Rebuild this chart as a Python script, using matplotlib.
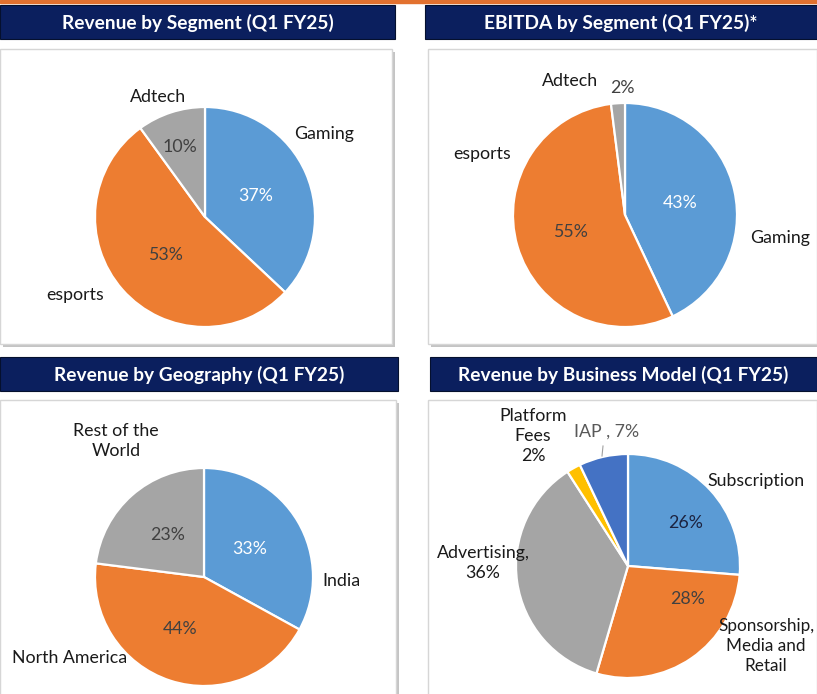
import matplotlib.pyplot as plt
from matplotlib.patches import Rectangle

plt.rcParams['font.family'] = ['Lato', 'DejaVu Sans']

BLUE = '#5B9BD5'
ORANGE = '#ED7D31'
GRAY = '#A5A5A5'
YELLOW = '#FFC000'
DBLUE = '#4472C4'
NAVY = '#0B1F5E'

# data
seg_names = ['Gaming', 'esports', 'Adtech']
seg_revenue = [37, 53, 10]
seg_ebitda = [43, 55, 2]
geo_names = ['India', 'North America', 'Rest of the\nWorld']
geo_revenue = [33, 44, 23]
bm_names = ['Subscription', 'Sponsorship,\nMedia and\nRetail', 'Advertising,', 'Platform\nFees', 'IAP ,']
bm_revenue = [26, 28, 36, 2, 7]

titles = ['Revenue by Segment (Q1 FY25)', 'EBITDA by Segment (Q1 FY25)*',
          'Revenue by Geography (Q1 FY25)', 'Revenue by Business Model (Q1 FY25)']

W, H = 817, 694
fig = plt.figure(figsize=(W / 100, H / 100), dpi=100)
ax = fig.add_axes([0, 0, 1, 1])

# headers (x0, x1, y0, y1) and boxes, in image pixels
headers = [(0, 395, 5, 39), (425, 817, 5, 39), (0, 398, 357, 391), (430, 817, 357, 391)]
boxes = [(0, 392, 49, 344), (428, 817, 49, 344), (0, 396, 400, 700), (428, 817, 400, 700)]

ax.add_patch(Rectangle((0, 0), W, 3, color='#E2712F', zorder=1))
for (x0, x1, y0, y1), t in zip(headers, titles):
    ax.add_patch(Rectangle((x0, y0), x1 - x0, y1 - y0, facecolor=NAVY,
                           edgecolor='#05102e', lw=0.8, zorder=1))
    ax.text((x0 + x1) / 2, (y0 + y1) / 2 + 1, t, color='white', fontsize=13.8,
            fontweight='bold', ha='center', va='center', zorder=2)
for x0, x1, y0, y1 in boxes:
    ax.add_patch(Rectangle((x0 + 3, y0 + 3), x1 - x0, y1 - y0, facecolor='#c4c4c4',
                           edgecolor='none', zorder=1))
    ax.add_patch(Rectangle((x0, y0), x1 - x0, y1 - y0, facecolor='white',
                           edgecolor='#d6d6d6', lw=1, zorder=1))

# y axis is inverted, so counterclock=True from -90 draws clockwise from 12 o'clock
wp = dict(edgecolor='white', linewidth=1.6)
pies = [
    (seg_revenue, [BLUE, ORANGE, GRAY], (205, 217), 110),
    (seg_ebitda, [BLUE, ORANGE, GRAY], (625, 215), 112),
    (geo_revenue, [BLUE, ORANGE, GRAY], (204, 577), 109),
    (bm_revenue, [BLUE, ORANGE, GRAY, YELLOW, DBLUE], (628, 566), 112),
]
for vals, cols, c, r in pies:
    ax.pie(vals, colors=cols, center=c, radius=r, startangle=-90, counterclock=True,
           wedgeprops=wp)

lab = dict(fontsize=12.8, color='#1a1a1a', ha='center', va='center')
pct = dict(fontsize=12.8, ha='center', va='center')
DARK = '#404040'

# panel 1
ax.text(324, 134, seg_names[0], **lab)
ax.text(75, 295, seg_names[1], **lab)
ax.text(158, 97, seg_names[2], **lab)
ax.text(256, 196, f'{seg_revenue[0]}%', color='white', **pct)
ax.text(165, 255, f'{seg_revenue[1]}%', color=DARK, **pct)
ax.text(180, 147, f'{seg_revenue[2]}%', color=DARK, **pct)

# panel 2
ax.text(780, 238, seg_names[0], **lab)
ax.text(482, 154, seg_names[1], **lab)
ax.text(570, 81, seg_names[2], **lab)
ax.text(680, 203, f'{seg_ebitda[0]}%', color='white', **pct)
ax.text(570, 232, f'{seg_ebitda[1]}%', color=DARK, **pct)
ax.text(622, 88, f'{seg_ebitda[2]}%', color=DARK, **pct)

# panel 3
ax.text(341, 581, geo_names[0], **lab)
ax.text(70, 658, geo_names[1], **lab)
ax.text(116, 441, geo_names[2], linespacing=1.3, **lab)
ax.text(250, 549, f'{geo_revenue[0]}%', color='white', **pct)
ax.text(180, 629, f'{geo_revenue[1]}%', color=DARK, **pct)
ax.text(168, 535, f'{geo_revenue[2]}%', color=DARK, **pct)

# panel 4
ax.text(756, 481, bm_names[0], **lab)
ax.text(766, 646, bm_names[1], linespacing=1.3, fontsize=12.3, color='#1a1a1a',
        ha='center', va='center')
ax.text(483, 563, f'{bm_names[2]}\n{bm_revenue[2]}%', linespacing=1.3, **lab)
ax.text(533, 436, f'{bm_names[3]}\n{bm_revenue[3]}%', linespacing=1.3, **lab)
ax.text(607, 432, f'{bm_names[4]} {bm_revenue[4]}%', color='#595959', fontsize=12.8,
        ha='center', va='center')
ax.plot([603, 602], [446, 456], color='#a0a0a0', lw=0.8)
ax.text(686, 523, f'{bm_revenue[0]}%', color='#1c2340', **pct)
ax.text(688, 599, f'{bm_revenue[1]}%', color=DARK, **pct)

ax.set_xlim(0, W)
ax.set_ylim(H, 0)
ax.set_aspect('equal')
ax.axis('off')
fig.savefig('out.png', dpi=100)
